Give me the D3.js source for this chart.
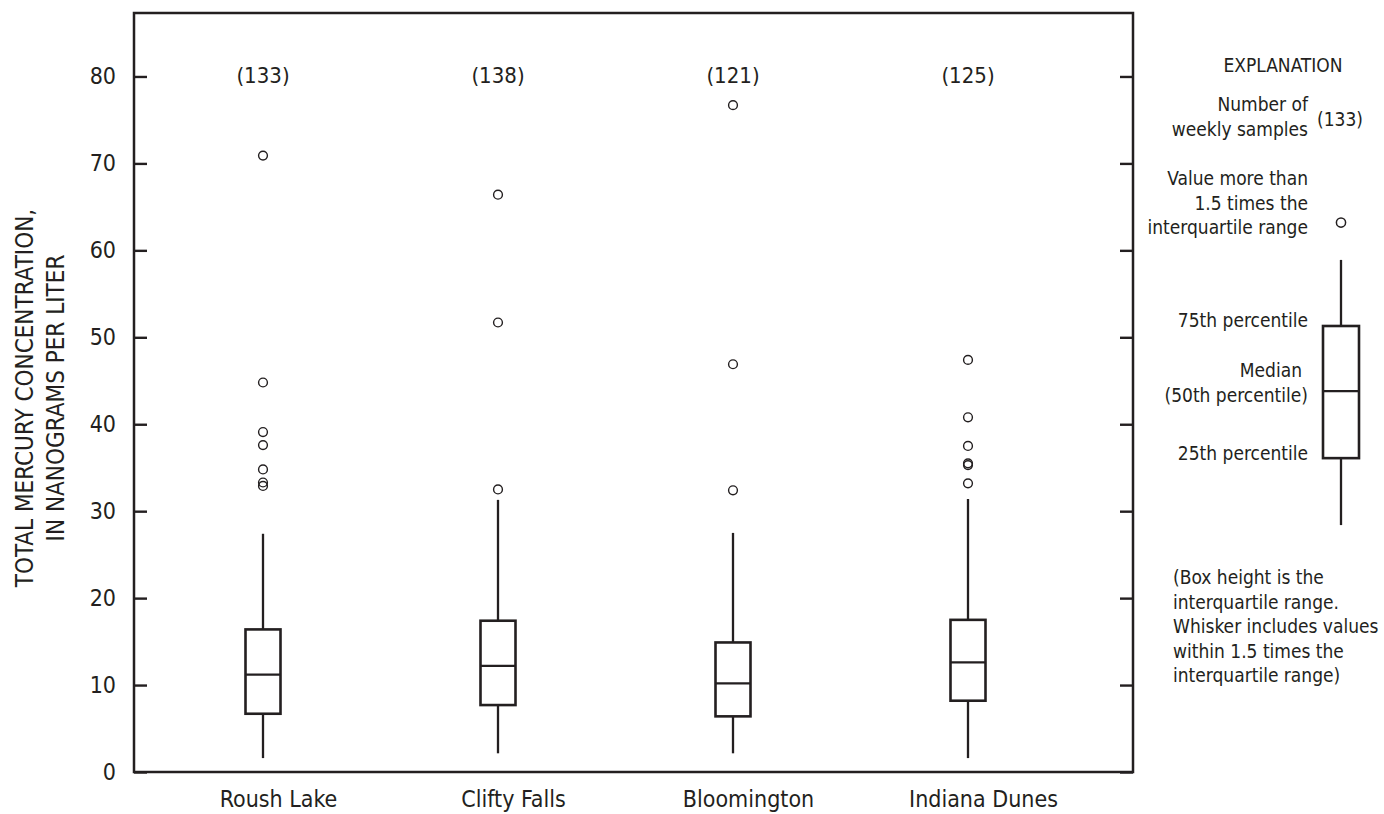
<!DOCTYPE html>
<html>
<head>
<meta charset="utf-8">
<script src="https://cdn.jsdelivr.net/npm/d3@7"></script>
<style>
  html, body { margin: 0; padding: 0; background: #fff; }
  svg { display: block; }
  text {
    font-family: "DejaVu Sans Condensed", "Liberation Sans Narrow", "DejaVu Sans", sans-serif;
    font-stretch: condensed;
    fill: #231f20;
  }
</style>
</head>
<body>
<svg id="chart"></svg>
<script>
// site summary statistics (ng/L)
const sites = ['Roush Lake', 'Clifty Falls', 'Bloomington', 'Indiana Dunes'];
const sampleCounts = [133, 138, 121, 125];
const whiskerLow = [1.6, 2.15, 2.15, 1.6];
const q1 = [6.7, 7.7, 6.4, 8.2];
const medians = [11.2, 12.2, 10.2, 12.6];
const q3 = [16.4, 17.4, 14.9, 17.5];
const whiskerHigh = [27.4, 31.3, 27.5, 31.4];
const outliers = [
  [70.9, 44.8, 39.1, 37.6, 34.8, 33.3, 32.9],
  [66.4, 51.7, 32.5],
  [76.7, 46.9, 32.4],
  [47.4, 40.8, 37.5, 35.5, 35.3, 33.2]
];
const yTicks = [0, 10, 20, 30, 40, 50, 60, 70, 80];
const yLabelLines = ['TOTAL MERCURY CONCENTRATION,', 'IN NANOGRAMS PER LITER'];

// explanation box (drawn on the same value scale)
const legendBox = { outlier: 63.2, high: 58.9, q3: 51.3, median: 43.8, q1: 36.1, low: 28.4 };
const legendNote = [
  '(Box height is the',
  'interquartile range.',
  'Whisker includes values',
  'within 1.5 times the',
  'interquartile range)'
];

const W = 1384, H = 814;
const margin = { top: 13, right: 251, bottom: 42, left: 134 };
const width = W - margin.left - margin.right;
const height = H - margin.top - margin.bottom;
const ink = '#231f20';
const boxW = 35;

const svg = d3.select('#chart').attr('width', W).attr('height', H);
const g = svg.append('g').attr('transform', `translate(${margin.left},${margin.top})`);

const x = d3.scalePoint().domain(sites).range([129, width - 165]);
const y = d3.scaleLinear().domain([0, 87.3]).range([height, 0]);

// frame
g.append('rect')
  .attr('width', width).attr('height', height)
  .attr('fill', 'none').attr('stroke', ink).attr('stroke-width', 2.5);

// left axis, ticks point inward
const yAxis = g.append('g')
  .call(d3.axisLeft(y).tickValues(yTicks).tickSize(-13).tickPadding(18));
yAxis.select('.domain').remove();
yAxis.selectAll('.tick line').attr('stroke', ink).attr('stroke-width', 2.4);
yAxis.selectAll('.tick text').attr('font-size', 23).attr('fill', ink);

// right axis ticks, no labels
const yAxisR = g.append('g')
  .attr('transform', `translate(${width},0)`)
  .call(d3.axisRight(y).tickValues(yTicks).tickSize(-13).tickFormat(''));
yAxisR.select('.domain').remove();
yAxisR.selectAll('.tick line').attr('stroke', ink).attr('stroke-width', 2.4);

// category labels
const xAxis = g.append('g')
  .attr('transform', `translate(0,${height})`)
  .call(d3.axisBottom(x).tickSize(0).tickPadding(0));
xAxis.select('.domain').remove();
xAxis.selectAll('.tick text')
  .attr('font-size', 23).attr('fill', ink)
  .attr('dx', 15).attr('dy', 35);

// y axis title
yLabelLines.forEach((line, i) => {
  svg.append('text')
    .attr('transform', `translate(${33 + i * 31},398) rotate(-90)`)
    .attr('text-anchor', 'middle')
    .attr('font-size', 24)
    .text(line);
});

// boxes
const boxes = g.selectAll('.site')
  .data(sites)
  .enter().append('g')
  .attr('class', 'site')
  .attr('transform', d => `translate(${x(d)},0)`);

boxes.append('line')
  .attr('y1', (d, i) => y(whiskerLow[i])).attr('y2', (d, i) => y(q1[i]))
  .attr('stroke', ink).attr('stroke-width', 2.3);
boxes.append('line')
  .attr('y1', (d, i) => y(q3[i])).attr('y2', (d, i) => y(whiskerHigh[i]))
  .attr('stroke', ink).attr('stroke-width', 2.3);
boxes.append('rect')
  .attr('x', -boxW / 2).attr('width', boxW)
  .attr('y', (d, i) => y(q3[i]))
  .attr('height', (d, i) => y(q1[i]) - y(q3[i]))
  .attr('fill', '#fff').attr('stroke', ink).attr('stroke-width', 2.6);
boxes.append('line')
  .attr('x1', -boxW / 2).attr('x2', boxW / 2)
  .attr('y1', (d, i) => y(medians[i])).attr('y2', (d, i) => y(medians[i]))
  .attr('stroke', ink).attr('stroke-width', 2.3);

boxes.each(function (d, i) {
  d3.select(this).selectAll('circle')
    .data(outliers[i])
    .enter().append('circle')
    .attr('cy', v => y(v)).attr('r', 4.4)
    .attr('fill', 'none').attr('stroke', ink).attr('stroke-width', 1.4);
});

boxes.append('text')
  .attr('y', 70)
  .attr('text-anchor', 'middle')
  .attr('font-size', 22)
  .text((d, i) => `(${sampleCounts[i]})`);

// explanation
const lx = margin.left + width + 208;   // box centre
const tx = margin.left + width + 175;   // right edge of texts
const lg = svg.append('g').attr('transform', `translate(0,${margin.top})`);
const ly = v => y(v);

svg.append('text').attr('x', 1283).attr('y', 72)
  .attr('text-anchor', 'middle').attr('font-size', 19).text('EXPLANATION');

const rightText = (lines, y0, dx = 0) => {
  lines.forEach((s, i) => {
    svg.append('text').attr('x', tx + dx).attr('y', y0 + i * 24.5)
      .attr('text-anchor', 'end').attr('font-size', 19).text(s);
  });
};
rightText(['Number of', 'weekly samples'], 111);
svg.append('text').attr('x', tx + 9).attr('y', 126)
  .attr('font-size', 19).text('(133)');
rightText(['Value more than', '1.5 times the', 'interquartile range'], 185);

lg.append('circle').attr('cx', lx).attr('cy', ly(legendBox.outlier)).attr('r', 4.6)
  .attr('fill', 'none').attr('stroke', ink).attr('stroke-width', 1.5);
lg.append('line').attr('x1', lx).attr('x2', lx)
  .attr('y1', ly(legendBox.high)).attr('y2', ly(legendBox.q3))
  .attr('stroke', ink).attr('stroke-width', 2.3);
lg.append('line').attr('x1', lx).attr('x2', lx)
  .attr('y1', ly(legendBox.q1)).attr('y2', ly(legendBox.low))
  .attr('stroke', ink).attr('stroke-width', 2.3);
lg.append('rect').attr('x', lx - 18).attr('width', 36)
  .attr('y', ly(legendBox.q3)).attr('height', ly(legendBox.q1) - ly(legendBox.q3))
  .attr('fill', '#fff').attr('stroke', ink).attr('stroke-width', 2.6);
lg.append('line').attr('x1', lx - 18).attr('x2', lx + 18)
  .attr('y1', ly(legendBox.median)).attr('y2', ly(legendBox.median))
  .attr('stroke', ink).attr('stroke-width', 2.3);

rightText(['75th percentile'], margin.top + ly(legendBox.q3) + 1);
rightText(['Median'], margin.top + ly(legendBox.median) - 14, -6);
rightText(['(50th percentile)'], margin.top + ly(legendBox.median) + 11);
rightText(['25th percentile'], margin.top + ly(legendBox.q1) + 2);

legendNote.forEach((s, i) => {
  svg.append('text').attr('x', 1173).attr('y', 584 + i * 24.5)
    .attr('font-size', 19).text(s);
});
</script>
</body>
</html>
